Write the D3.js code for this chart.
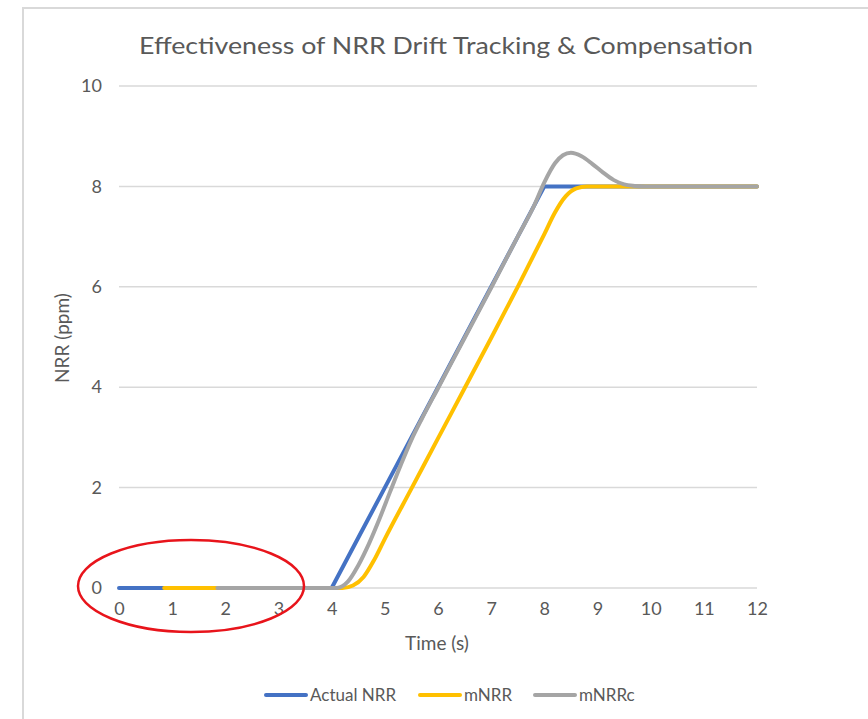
<!DOCTYPE html>
<html>
<head>
<meta charset="utf-8">
<script src="https://cdn.jsdelivr.net/npm/d3@7"></script>
<style>
    body { margin: 0; background: white; }
    text { font-family: Lato, "Open Sans", sans-serif; fill: #595959; }
</style>
</head>
<body>
<svg id="chart"></svg>
<script>
// NRR drift tracking chart

// Actual NRR
var actualTime = [0, 4, 4.5, 5, 5.5, 6, 6.5, 7, 7.5, 8, 12];
var actualNRR = [0, 0, 1, 2, 3, 4, 5, 6, 7, 8, 8];

// mNRR (measured)
var mTime = [0.85, 4.2, 4.4, 4.6, 4.8, 5, 5.5, 6, 6.5, 7, 7.5, 8, 8.2, 8.4, 8.6, 8.8, 9, 12];
var mNRR = [0, 0, 0.05, 0.22, 0.56, 0.98, 1.98, 2.98, 3.98, 4.98, 6.0, 7.05, 7.48, 7.8, 7.96, 8.0, 8.0, 8.0];

// mNRRc (compensated)
var cTime = [1.85, 4.1, 4.3, 4.5, 4.7, 4.9, 5.1, 5.3, 5.5, 5.7, 6, 6.5, 7, 7.5, 7.8, 8, 8.2, 8.35, 8.5, 8.7, 8.9, 9.1, 9.3, 9.5, 9.7, 9.9, 12];
var mNRRc = [0, 0, 0.12, 0.45, 0.88, 1.38, 1.92, 2.45, 2.95, 3.38, 3.98, 4.98, 5.98, 7.0, 7.6, 8.08, 8.46, 8.62, 8.67, 8.6, 8.45, 8.28, 8.13, 8.04, 8.01, 8.0, 8.0];

var xTicks = [0, 1, 2, 3, 4, 5, 6, 7, 8, 9, 10, 11, 12];
var yTicks = [0, 2, 4, 6, 8, 10];

var seriesNames = ["Actual NRR", "mNRR", "mNRRc"];
var seriesColors = ["#4472C4", "#FFC000", "#A5A5A5"];

var dimensions = {
    width: 868,
    height: 719,
    margin: { top: 86, bottom: 131, left: 119, right: 111 }
};

var svg = d3.select("#chart")
    .attr("width", dimensions.width)
    .attr("height", dimensions.height);

// chart frame
svg.append("rect")
    .attr("x", 23)
    .attr("y", 8)
    .attr("width", 900)
    .attr("height", 800)
    .attr("fill", "white")
    .attr("stroke", "#d9d9d9")
    .attr("stroke-width", 2);

var xScale = d3.scaleLinear()
    .domain([0, 12])
    .range([dimensions.margin.left, dimensions.width - dimensions.margin.right]);

var yScale = d3.scaleLinear()
    .domain([0, 10])
    .range([dimensions.height - dimensions.margin.bottom, dimensions.margin.top]);

// gridlines
svg.append("g")
    .selectAll("line")
    .data(yTicks)
    .enter()
    .append("line")
    .attr("x1", xScale(0))
    .attr("x2", xScale(12))
    .attr("y1", d => yScale(d))
    .attr("y2", d => yScale(d))
    .attr("stroke", "#d9d9d9")
    .attr("stroke-width", 1.5);

// y axis labels
var yAxis = svg.append("g")
    .attr("transform", `translate(${xScale(0) - 17},0)`)
    .call(d3.axisLeft(yScale).tickValues(yTicks).tickSize(0).tickPadding(0));
yAxis.select(".domain").remove();
yAxis.selectAll("text").style("font-size", "18px").attr("fill", "#595959").attr("font-family", "Lato, sans-serif");

// x axis labels
var xAxis = svg.append("g")
    .attr("transform", `translate(0,${yScale(0) + 14})`)
    .call(d3.axisBottom(xScale).tickValues(xTicks).tickSize(0).tickPadding(0));
xAxis.select(".domain").remove();
xAxis.selectAll("text").style("font-size", "18px").attr("fill", "#595959").attr("font-family", "Lato, sans-serif");

var line = d3.line()
    .x(d => xScale(d[0]))
    .y(d => yScale(d[1]));

var seriesData = [
    d3.zip(actualTime, actualNRR),
    d3.zip(mTime, mNRR),
    d3.zip(cTime, mNRRc)
];
var curves = [d3.curveLinear, d3.curveMonotoneX, d3.curveMonotoneX];

svg.selectAll(".series-line")
    .data(seriesData)
    .enter()
    .append("path")
    .attr("class", "series-line")
    .attr("d", (d, i) => line.curve(curves[i])(d))
    .attr("fill", "none")
    .attr("stroke", (d, i) => seriesColors[i])
    .attr("stroke-width", 4)
    .attr("stroke-linejoin", "round")
    .attr("stroke-linecap", "round");

// title
svg.append("text")
    .attr("x", 446)
    .attr("y", 54)
    .attr("text-anchor", "middle")
    .attr("textLength", 614)
    .attr("lengthAdjust", "spacingAndGlyphs")
    .style("font-size", "24px")
    .text("Effectiveness of NRR Drift Tracking & Compensation");

// axis titles
svg.append("text")
    .attr("x", 437)
    .attr("y", 650)
    .attr("text-anchor", "middle")
    .style("font-size", "19px")
    .text("Time (s)");

svg.append("text")
    .attr("transform", "translate(69,338) rotate(-90)")
    .attr("text-anchor", "middle")
    .style("font-size", "19px")
    .text("NRR (ppm)");

// legend
var legendX = [264, 418, 533];
var legend = svg.selectAll(".legend")
    .data(seriesNames)
    .enter()
    .append("g")
    .attr("class", "legend")
    .attr("transform", (d, i) => `translate(${legendX[i]},695)`);

legend.append("line")
    .attr("x1", 2)
    .attr("x2", 42)
    .attr("stroke", (d, i) => seriesColors[i])
    .attr("stroke-width", 4)
    .attr("stroke-linecap", "round");

legend.append("text")
    .attr("x", 46)
    .attr("dy", "0.35em")
    .style("font-size", "17px")
    .text(d => d);

// red highlight ellipse
svg.append("ellipse")
    .attr("cx", 191)
    .attr("cy", 586)
    .attr("rx", 113)
    .attr("ry", 46)
    .attr("fill", "none")
    .attr("stroke", "#E8141B")
    .attr("stroke-width", 2.5);
</script>
</body>
</html>
